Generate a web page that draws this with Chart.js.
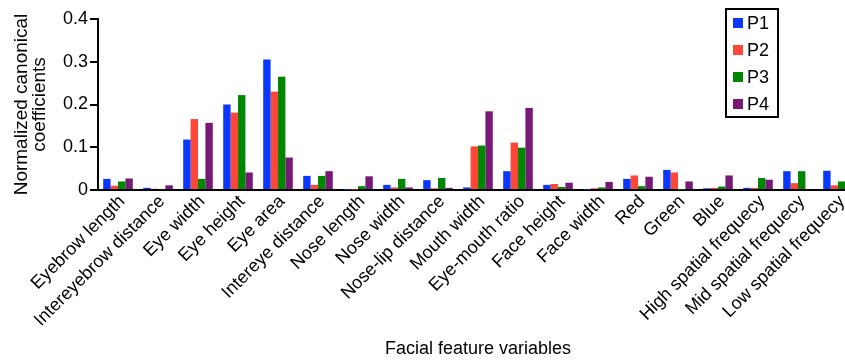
<!DOCTYPE html>
<html>
<head>
<meta charset="utf-8">
<script src="https://cdn.jsdelivr.net/npm/chart.js@4/dist/chart.umd.min.js"></script>
<style>
    html, body { margin: 0; padding: 0; background: #fff; overflow: hidden; }
    #wrap { width: 845px; height: 361px; overflow: hidden; }
</style>
</head>
<body>
<div id="wrap"><canvas id="chart" width="870" height="361"></canvas></div>
<script>
const features = [
    "Eyebrow length", "Intereyebrow distance", "Eye width", "Eye height", "Eye area",
    "Intereye distance", "Nose length", "Nose width", "Nose-lip distance", "Mouth width",
    "Eye-mouth ratio", "Face height", "Face width", "Red", "Green", "Blue",
    "High spatial frequecy", "Mid spatial frequecy", "Low spatial frequecy"
]
const p1 = [0.026, 0.005, 0.118, 0.200, 0.305, 0.033, 0.001, 0.012, 0.023, 0.006, 0.044, 0.012, 0.001, 0.026, 0.047, 0.004, 0.005, 0.044, 0.045]
const p2 = [0.010, 0.003, 0.166, 0.181, 0.230, 0.012, 0.001, 0.006, 0.004, 0.102, 0.111, 0.014, 0.004, 0.034, 0.041, 0.005, 0.005, 0.016, 0.011]
const p3 = [0.020, 0.002, 0.026, 0.222, 0.265, 0.033, 0.009, 0.026, 0.028, 0.104, 0.099, 0.007, 0.006, 0.009, 0.001, 0.008, 0.028, 0.044, 0.020]
const p4 = [0.027, 0.011, 0.157, 0.041, 0.076, 0.044, 0.032, 0.006, 0.005, 0.184, 0.192, 0.017, 0.019, 0.031, 0.020, 0.034, 0.024, 0.002, 0.029]
const yTicks = [0, 0.1, 0.2, 0.3, 0.4]

const FONT = "'Liberation Sans', Arial, Helvetica, sans-serif"

/**
 * Boxed legend drawn inside the plot area
 */
const boxLegend = {
    id: "boxLegend",
    afterDraw(chart, args, opts) {
        const ctx = chart.ctx
        const sets = chart.data.datasets
        ctx.save()
        ctx.strokeStyle = "#000"
        ctx.lineWidth = 2
        ctx.strokeRect(opts.x, opts.y, opts.w, opts.h)
        ctx.font = `18px ${FONT}`
        ctx.textBaseline = "middle"
        ctx.fillStyle = "#000"
        sets.forEach((ds, i) => {
            const cy = opts.y + 14 + i * 27
            ctx.fillStyle = ds.backgroundColor
            ctx.fillRect(opts.x + 7, cy - 5, 10, 10)
            ctx.fillStyle = "#000"
            ctx.fillText(ds.label, opts.x + 21, cy + 1)
        })
        ctx.restore()
    }
}

const makeSet = (label, values, color) => ({
    label: label,
    data: values,
    backgroundColor: color,
    borderWidth: 0,
    barPercentage: 1.0,
    categoryPercentage: 0.74,
})

new Chart(document.getElementById("chart"), {
    type: "bar",
    data: {
        labels: features,
        datasets: [
            makeSet("P1", p1, "rgb(10, 55, 255)"),
            makeSet("P2", p2, "rgb(255, 70, 55)"),
            makeSet("P3", p3, "rgb(0, 135, 0)"),
            makeSet("P4", p4, "rgb(120, 25, 120)"),
        ]
    },
    options: {
        responsive: false,
        animation: false,
        layout: { padding: { top: 19, right: 12, left: 0, bottom: 0 } },
        plugins: {
            legend: { display: false },
            tooltip: { enabled: false },
            boxLegend: { x: 726, y: 9, w: 52, h: 108 },
        },
        scales: {
            x: {
                grid: { display: false, drawTicks: false },
                border: { display: true, color: "#000", width: 2 },
                ticks: {
                    color: "#000",
                    font: { family: FONT, size: 18 },
                    minRotation: 45,
                    maxRotation: 45,
                    autoSkip: false,
                    padding: 1,
                    labelOffset: 4,
                },
                title: {
                    display: true,
                    text: "Facial feature variables",
                    color: "#000",
                    font: { family: FONT, size: 18 },
                    padding: { top: 4, bottom: 1 },
                },
                afterFit: (scale) => { scale.height = 171 },
            },
            y: {
                min: 0,
                max: 0.4,
                afterBuildTicks: (scale) => { scale.ticks = yTicks.map(v => ({ value: v })) },
                grid: { drawOnChartArea: false, drawTicks: true, tickLength: 8, color: "#000", lineWidth: 2 },
                border: { display: true, color: "#000", width: 2 },
                ticks: {
                    color: "#000",
                    font: { family: FONT, size: 18 },
                    padding: 2,
                    callback: (v) => v === 0 ? "0" : v.toFixed(1),
                },
                title: {
                    display: true,
                    text: ["Normalized canonical", "coefficients"],
                    color: "#000",
                    font: { family: FONT, size: 19, lineHeight: 0.95 },
                    padding: { top: 13, bottom: 4 },
                },
                afterFit: (scale) => { scale.width = 98 },
            }
        }
    },
    plugins: [boxLegend]
})
</script>
</body>
</html>
